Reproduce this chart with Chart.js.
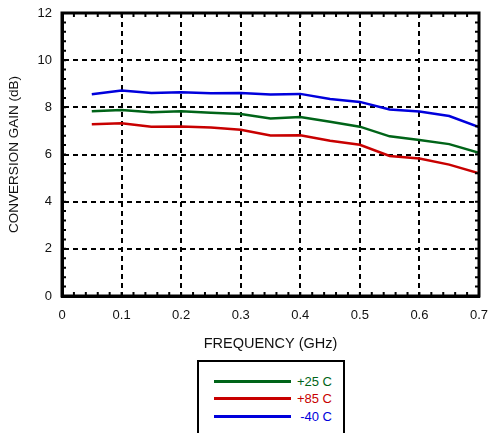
<!DOCTYPE html>
<html>
<head>
<meta charset="utf-8">
<script src="https://cdn.jsdelivr.net/npm/chart.js@4/dist/chart.umd.min.js"></script>
<style>
  html, body { margin: 0; padding: 0; background: #fff; }
  #wrap { position: relative; width: 489px; height: 433px; overflow: hidden; }
  canvas { position: absolute; left: 0; top: 0; }
  #legend {
    position: absolute; left: 197px; top: 360px; width: 144px; height: 90px;
    border: 2px solid #000; background: #fff; font-family: "Liberation Sans", Arial, sans-serif;
    font-size: 13px;
  }
  .row { position: absolute; left: 0; width: 100%; height: 16px; }
  .row .ln { position: absolute; left: 15px; width: 77px; height: 3px; top: 6px; }
  .row .tx { position: absolute; right: 11px; top: 0; line-height: 16px; }
</style>
</head>
<body>
<div id="wrap">
  <canvas id="c" width="489" height="433"></canvas>
  <div id="legend"></div>
</div>
<script>
const freq = [0.05,0.10,0.15,0.20,0.25,0.30,0.35,0.40,0.45,0.50,0.55,0.60,0.65,0.70];
const gain25 = [7.83,7.89,7.79,7.83,7.77,7.72,7.53,7.59,7.39,7.18,6.77,6.61,6.44,6.07];
const gain85 = [7.28,7.32,7.18,7.19,7.15,7.05,6.81,6.82,6.58,6.41,5.94,5.83,5.57,5.20];
const gainM40 = [8.55,8.71,8.61,8.64,8.60,8.61,8.54,8.57,8.35,8.23,7.91,7.82,7.63,7.16];
const seriesLabels = ['+25 C', '+85 C', '-40 C'];
const seriesColors = ['#006418', '#c80000', '#0000dc'];
const xTitle = 'FREQUENCY (GHz)';
const yTitle = 'CONVERSION GAIN (dB)';

const FONT = '"Liberation Sans", Arial, sans-serif';

function pts(ys) { return freq.map((x, i) => ({ x: x, y: ys[i] })); }

const frame = {
  id: 'frame',
  afterDraw(chart) {
    const { ctx, chartArea: a, scales } = chart;
    ctx.save();
    ctx.strokeStyle = '#000';
    ctx.lineWidth = 2;
    const xs = scales.x, ys = scales.y;
    for (let i = 0; i <= 35; i++) {
      const px = xs.getPixelForValue(i * 0.02);
      ctx.beginPath();
      ctx.moveTo(px, a.bottom); ctx.lineTo(px, a.bottom - 4);
      ctx.moveTo(px, a.top); ctx.lineTo(px, a.top + 4);
      ctx.stroke();
    }
    for (let i = 0; i <= 30; i++) {
      const py = ys.getPixelForValue(i * 0.4);
      ctx.beginPath();
      ctx.moveTo(a.left, py); ctx.lineTo(a.left + 4, py);
      ctx.moveTo(a.right, py); ctx.lineTo(a.right - 4, py);
      ctx.stroke();
    }
    ctx.lineWidth = 3;
    ctx.strokeRect(a.left, a.top, a.right - a.left, a.bottom - a.top);
    ctx.restore();
  }
};

new Chart(document.getElementById('c'), {
  type: 'line',
  data: {
    datasets: [
      { label: seriesLabels[0], data: pts(gain25), borderColor: seriesColors[0] },
      { label: seriesLabels[1], data: pts(gain85), borderColor: seriesColors[1] },
      { label: seriesLabels[2], data: pts(gainM40), borderColor: seriesColors[2] }
    ]
  },
  options: {
    responsive: false,
    animation: false,
    events: [],
    layout: { padding: { top: 13, right: 10, left: 0, bottom: 77 } },
    elements: {
      line: { borderWidth: 2.5, tension: 0, fill: false },
      point: { radius: 0 }
    },
    plugins: { legend: { display: false }, tooltip: { enabled: false } },
    scales: {
      x: {
        type: 'linear', min: 0, max: 0.7,
        afterFit(s) { s.height = 60; s.paddingLeft = 0; s.paddingRight = 0; },
        ticks: {
          stepSize: 0.1, padding: 12, maxRotation: 0, color: '#111',
          font: { family: FONT, size: 13 },
          callback: v => String(Number(v.toFixed(2)))
        },
        grid: { color: '#000', lineWidth: 2, drawTicks: false },
        border: { display: true, color: '#000', width: 3, dash: [5, 4] },
        title: { display: true, text: xTitle, color: '#111', font: { family: FONT, size: 14.5 }, padding: { top: 0, bottom: 3 } }
      },
      y: {
        min: 0, max: 12,
        afterFit(s) { s.width = 62; s.paddingTop = 0; s.paddingBottom = 0; },
        ticks: { stepSize: 2, padding: 10, color: '#111', font: { family: FONT, size: 13 } },
        grid: { color: '#000', lineWidth: 2, drawTicks: false },
        border: { display: true, color: '#000', width: 3, dash: [5, 4] },
        title: { display: true, text: yTitle, color: '#111', font: { family: FONT, size: 13.5 }, padding: { top: 6, bottom: 0 } }
      }
    }
  },
  plugins: [frame]
});

const lg = document.getElementById('legend');
const tops = [12, 29, 47];
seriesLabels.forEach((lab, i) => {
  const r = document.createElement('div');
  r.className = 'row';
  r.style.top = tops[i] + 'px';
  r.innerHTML = '<div class="ln" style="background:' + seriesColors[i] + '"></div><div class="tx" style="color:' + seriesColors[i] + '">' + lab + '</div>';
  lg.appendChild(r);
});
</script>
</body>
</html>
